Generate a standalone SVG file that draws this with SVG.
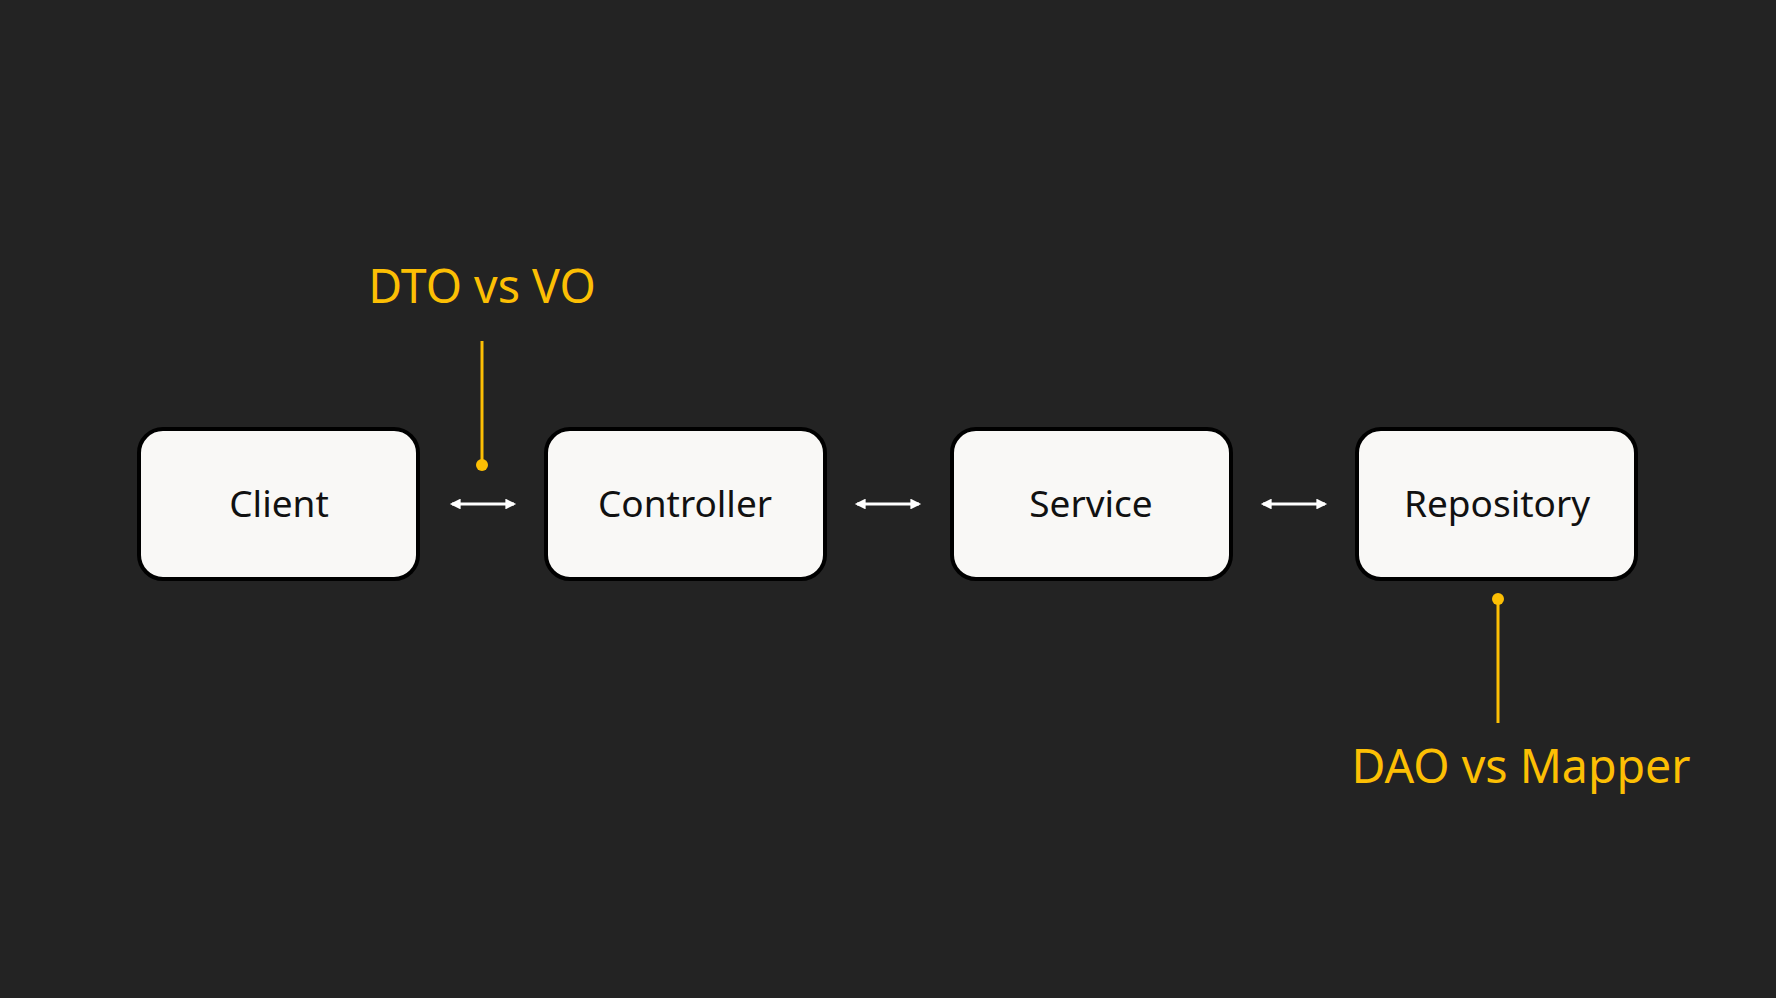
<svg xmlns="http://www.w3.org/2000/svg" width="1776" height="998" viewBox="0 0 1776 998">
<defs>
<style>
.box{fill:#f9f8f6;stroke:#000;stroke-width:4}
.lbl{font-family:"Noto Sans","DejaVu Sans",sans-serif;font-size:37px;fill:#111;text-anchor:middle}
.note{font-family:"Noto Sans","DejaVu Sans",sans-serif;font-size:46.5px;fill:#fcbf04;text-anchor:middle}
.arr{stroke:#fff;stroke-width:3;fill:none;marker-start:url(#ah);marker-end:url(#ah)}
.lead{stroke:#fcbf04;stroke-width:3;fill:none}
</style>
<marker id="ah" viewBox="0 0 10 10" refX="8" refY="5" markerWidth="4.5" markerHeight="3.6" orient="auto-start-reverse" markerUnits="strokeWidth">
<path d="M0,0 L10,5 L0,10 Z" fill="#fff"/>
</marker>
</defs>
<rect width="1776" height="998" fill="#232323"/>
<g id="client"><rect class="box" x="139" y="429" width="279" height="150" rx="24"/><text class="lbl" x="279" y="517">Client</text></g>
<g id="controller"><rect class="box" x="546" y="429" width="279" height="150" rx="24"/><text class="lbl" x="685" y="517">Controller</text></g>
<g id="service"><rect class="box" x="952" y="429" width="279" height="150" rx="24"/><text class="lbl" x="1091" y="517">Service</text></g>
<g id="repository"><rect class="box" x="1357" y="429" width="279" height="150" rx="24"/><text class="lbl" x="1497" y="517">Repository</text></g>
<g id="connectors">
<line class="arr" x1="452" y1="504" x2="514" y2="504"/>
<line class="arr" x1="857" y1="504" x2="919" y2="504"/>
<line class="arr" x1="1263" y1="504" x2="1325" y2="504"/>
<line class="lead" x1="482" y1="341" x2="482" y2="465"/>
<circle cx="482" cy="465" r="6" fill="#fcbf04"/>
<line class="lead" x1="1498" y1="599" x2="1498" y2="723"/>
<circle cx="1498" cy="599" r="6" fill="#fcbf04"/>
</g>
<g id="dto-note"><text class="note" x="482" y="303">DTO vs VO</text></g>
<g id="dao-note"><text class="note" x="1521" y="783">DAO vs Mapper</text></g>
</svg>
